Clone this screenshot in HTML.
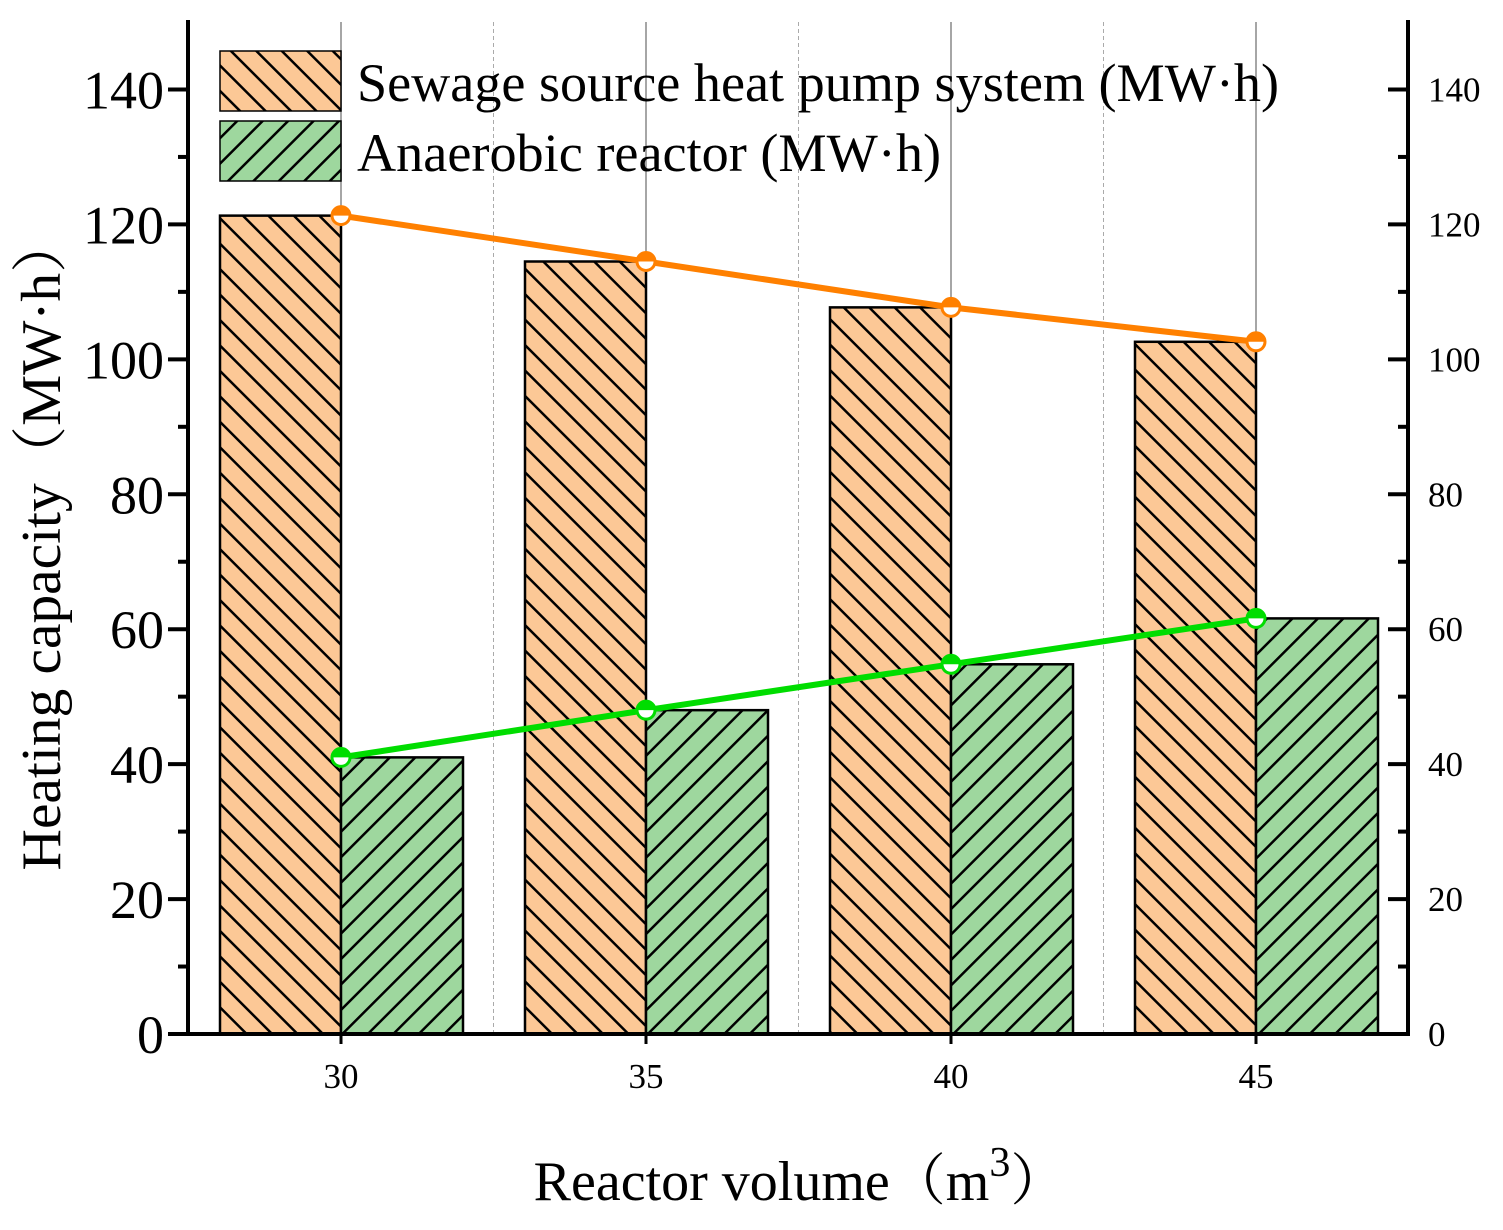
<!DOCTYPE html>
<html><head><meta charset="utf-8"><style>
body{margin:0;background:#fff}
svg{display:block;font-family:"Liberation Serif",serif}
</style></head><body>
<svg id="chart" width="1503" height="1230" viewBox="0 0 1503 1230">
<defs>
<pattern id="hatchO" patternUnits="userSpaceOnUse" width="18" height="18" patternTransform="rotate(-45)">
<rect width="18" height="18" fill="#FCC896"/><line x1="0" y1="0" x2="0" y2="18" stroke="#000" stroke-width="5"/></pattern>
<pattern id="hatchG" patternUnits="userSpaceOnUse" width="18" height="18" patternTransform="rotate(45)">
<rect width="18" height="18" fill="#9ED79E"/><line x1="0" y1="0" x2="0" y2="18" stroke="#000" stroke-width="5"/></pattern>
</defs>
<g id="grid"></g>
<g id="bars"></g>
<g id="lines"></g>
<g id="axes"></g>
<g>
<rect x="220" y="51" width="121" height="60" fill="url(#hatchO)" stroke="#000" stroke-width="1.5"/>
<text x="357" y="101" font-size="54" textLength="922" lengthAdjust="spacingAndGlyphs">Sewage source heat pump system (MW·h)</text>
<rect x="220" y="121" width="121" height="60" fill="url(#hatchG)" stroke="#000" stroke-width="1.5"/>
<text x="357" y="171" font-size="54" textLength="584" lengthAdjust="spacingAndGlyphs">Anaerobic reactor (MW·h)</text>
</g>
<text transform="translate(60,543) rotate(-90)" text-anchor="middle" font-size="56" textLength="655" lengthAdjust="spacingAndGlyphs" font-family="Liberation Serif, Noto Serif CJK SC, serif">Heating capacity（MW·h）</text>
<text x="800" y="1200" text-anchor="middle" font-size="56" font-family="Liberation Serif, Noto Serif CJK SC, serif">Reactor volume（m<tspan dy="-24" font-size="42">3</tspan><tspan dy="24">）</tspan></text>
</svg>
<script>
const categories=["30","35","40","45"];
const sewageValues=[121.3,114.5,107.7,102.6];
const anaerobicValues=[41.0,48.0,54.8,61.6];
const yTicks=[0,20,40,60,80,100,120,140];
const NS="http://www.w3.org/2000/svg";
const L=188,R=1408,T=22,B=1034;
function y(v){return B-v*(B-T)/150;}
function x(i){return 341+i*305;}
function mk(tag,attrs,parent){const e=document.createElementNS(NS,tag);for(const k in attrs)e.setAttribute(k,attrs[k]);document.getElementById(parent).appendChild(e);return e;}
for(let i=0;i<categories.length;i++){
 const g=mk('line',{x1:x(i),x2:x(i),y1:T,y2:B,stroke:'#888','stroke-width':1.5},'grid');
 
 
 if(i<categories.length-1){
  const d=mk('line',{x1:x(i)+152.5,x2:x(i)+152.5,y1:T,y2:B,stroke:'#aaa','stroke-width':1,'stroke-dasharray':'4,3'},'grid');
  
  
 }
}
for(let i=0;i<categories.length;i++){
 const a=mk('rect',{x:x(i)-121,y:y(sewageValues[i]),width:121,height:B-y(sewageValues[i]),fill:'url(#hatchO)',stroke:'#000','stroke-width':2.5},'bars');
 
 
 const b=mk('rect',{x:x(i),y:y(anaerobicValues[i]),width:122,height:B-y(anaerobicValues[i]),fill:'url(#hatchG)',stroke:'#000','stroke-width':2.5},'bars');
 
 
}
[[sewageValues,'#FF8000','sewage'],[anaerobicValues,'#00DD00','anaerobic']].forEach(([vals,c,n])=>{
 const p=mk('polyline',{points:vals.map((v,i)=>x(i)+','+y(v)).join(' '),fill:'none',stroke:c,'stroke-width':6},'lines');
 
 
 vals.forEach((v,i)=>{
  const m=mk('circle',{cx:x(i),cy:y(v),r:9,fill:'#fff',stroke:c,'stroke-width':3},'lines');
  
  
  const h=mk('path',{d:`M${x(i)-10},${y(v)} A10,10 0 0 1 ${x(i)+10},${y(v)} Z`,fill:c},'lines');
  
  
 });
});
[[L,T-2,L,B+2,'y-axis-left'],[R,T-2,R,B+2,'y-axis-right'],[L-2,B,R+2,B,'x-axis']].forEach(a=>{
 const l=mk('line',{x1:a[0],y1:a[1],x2:a[2],y2:a[3],stroke:'#000','stroke-width':4},'axes');
 
 
});
yTicks.forEach(v=>{
 const t=mk('line',{x1:L-20,x2:L,y1:y(v),y2:y(v),stroke:'#000','stroke-width':4},'axes');
 
 
 const t2=mk('line',{x1:R-20,x2:R,y1:y(v),y2:y(v),stroke:'#000','stroke-width':4},'axes');
 
 
 if(v<140){
  const m=mk('line',{x1:L-10,x2:L,y1:y(v+10),y2:y(v+10),stroke:'#000','stroke-width':4},'axes');
  
  
  const m2=mk('line',{x1:R-10,x2:R,y1:y(v+10),y2:y(v+10),stroke:'#000','stroke-width':4},'axes');
  
  
 }
 const lb=mk('text',{x:L-24,y:y(v)+19,'text-anchor':'end','font-size':54},'axes');
 lb.textContent=v;
 
 
 const lb2=mk('text',{x:R+20,y:y(v)+12,'font-size':35},'axes');
 lb2.textContent=v;
 
 
});
categories.forEach((c,i)=>{
 const t=mk('line',{x1:x(i),x2:x(i),y1:B,y2:B+10,stroke:'#000','stroke-width':3},'axes');
 
 
 const lb=mk('text',{x:x(i),y:B+54,'text-anchor':'middle','font-size':35},'axes');
 lb.textContent=c;
 
 
});
</script>
</body></html>
